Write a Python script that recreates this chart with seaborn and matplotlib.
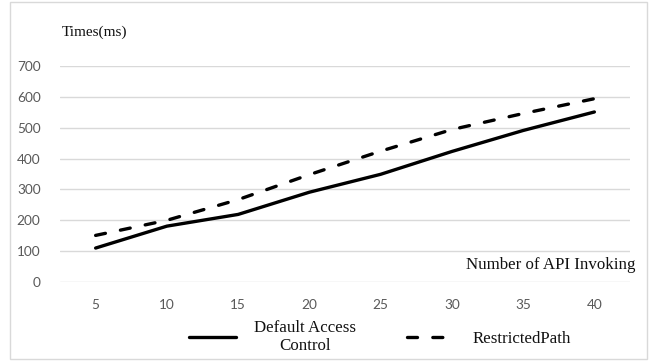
import pandas as pd
import seaborn as sns
import matplotlib.pyplot as plt
from matplotlib.patches import Rectangle

# data
api_calls = ['5', '10', '15', '20', '25', '30', '35', '40']
default_access = [110, 181, 219, 291, 349, 423, 491, 551]
restricted_path = [151, 200, 267, 348, 424, 494, 546, 594]
series_names = ['Default Access\nControl', 'RestrictedPath']

df = pd.DataFrame({
    'calls': api_calls * 2,
    'time': default_access + restricted_path,
    'series': [series_names[0]] * len(api_calls) + [series_names[1]] * len(api_calls),
})

sns.set_theme(style='white')
plt.rcParams['font.family'] = ['Lato', 'DejaVu Sans']

fig = plt.figure(figsize=(6.54, 3.62), dpi=100)
W, H = 654, 362
ax = fig.add_axes([60 / W, 1 - 282 / H, 570 / W, 216 / H])

dash = (3.0, 4.6)
sns.lineplot(data=df, x='calls', y='time', style='series',
             dashes={series_names[0]: '', series_names[1]: dash},
             color='black', linewidth=2.4, sort=False, ax=ax, legend=False)
for ln in ax.lines:
    ln.set_solid_capstyle('round')
    ln.set_dash_capstyle('round')

ax.set_xlim(-0.5, len(api_calls) - 0.5)
ax.set_ylim(0, 700)
ax.set_yticks(range(0, 701, 100))
ax.yaxis.grid(True, color='#d9d9d9', linewidth=1)
ax.xaxis.grid(False)
for s in ax.spines.values():
    s.set_visible(False)
ax.tick_params(axis='both', length=0, labelsize=9.8, colors='#595959', pad=12)
ax.tick_params(axis='y', pad=14)
ax.set_xlabel('')
ax.set_ylabel('')

serif = ['Liberation Serif', 'DejaVu Serif']
fig.text(62 / W, 1 - 32 / H, 'Times(ms)', family=serif, fontsize=11,
         ha='left', va='center', color='#111111')
fig.text(635 / W, 1 - 265 / H, 'Number of API Invoking', family=serif,
         fontsize=12.2, ha='right', va='center', color='#111111')

handles = [plt.Line2D([], [], color='black', lw=2.4, solid_capstyle='round'),
           plt.Line2D([], [], color='black', lw=2.4, dash_capstyle='round',
                      linestyle=(0, dash))]
leg = fig.legend(handles, series_names, loc='center left',
                 bbox_to_anchor=(189 / W, 1 - 337 / H), ncol=2, frameon=False,
                 prop={'family': serif, 'size': 12.2}, handlelength=2.75,
                 handletextpad=1.1, columnspacing=3.0, borderpad=0,
                 borderaxespad=0)
for t in leg.get_texts():
    t.set_multialignment('center')
    t.set_color('#111111')

fig.patches.append(Rectangle((10 / W, 3 / H), 637 / W, 357 / H,
                             transform=fig.transFigure, fill=False,
                             edgecolor='#d9d9d9', linewidth=1))

fig.savefig('out.png', dpi=100)
